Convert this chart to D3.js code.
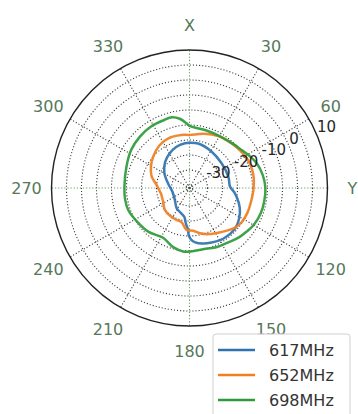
<!DOCTYPE html>
<html>
<head>
<meta charset="utf-8">
<script src="https://cdn.jsdelivr.net/npm/d3@7"></script>
<style>
  html, body { margin: 0; padding: 0; background: #fff; }
  svg { display: block; font-family: "DejaVu Sans", sans-serif; }
</style>
</head>
<body>
<svg id="chart" width="358" height="414"></svg>
<script>
// ---- data (angles in degrees, values in dB) ----
const seriesNames = ["617MHz", "652MHz", "698MHz"];
const seriesColors = ["#2f72b0", "#f07f22", "#2e9a3a"];

const anglesBlue = [0, 11, 31, 52, 74, 88, 96, 107, 116, 131, 146, 158, 167, 174, 178, 181, 182, 186, 190, 198, 212, 231, 257, 282, 301, 317, 330, 342, 354];
const valuesBlue = [-20.9, -20.9, -21.8, -22.5, -22.5, -22.5, -20.9, -18.8, -17.3, -15.7, -15.7, -16.4, -17.0, -17.8, -18.7, -20.3, -22.0, -24.2, -26.2, -27.1, -28.0, -29.7, -30.2, -28.7, -26.2, -24.1, -22.7, -21.6, -21.0];

const anglesOrange = [0, 15, 29, 40, 48, 58, 68, 80, 92, 104, 113, 123, 132, 145, 157, 167, 175, 184, 193, 202, 215, 228, 243, 259, 275, 287, 299, 311, 325, 337, 351];
const valuesOrange = [-18.3, -17.3, -16.2, -15.7, -15.3, -14.7, -14.3, -14.3, -14.7, -15.0, -15.0, -15.2, -16.0, -18.0, -19.3, -20.5, -21.7, -22.0, -24.3, -24.5, -24.7, -25.0, -26.1, -26.3, -25.0, -22.8, -21.3, -20.0, -18.6, -18.0, -18.1];

const anglesGreen = [0, 15, 30, 45, 54, 62, 70, 80, 90, 100, 110, 120, 127, 135, 145, 155, 165, 175, 185, 195, 208, 223, 238, 250, 260, 271, 289, 303, 316, 328, 340, 346, 352, 357];
const valuesGreen = [-15.3, -16.0, -16.0, -15.3, -14.5, -13.3, -12.1, -11.2, -10.7, -10.7, -10.8, -11.3, -12.0, -12.7, -13.8, -14.3, -15.0, -15.0, -14.7, -15.5, -17.2, -16.0, -15.2, -14.3, -14.2, -14.3, -13.8, -12.8, -12.2, -11.8, -11.8, -11.7, -12.7, -14.3];

const thetaTicks = [0, 30, 60, 90, 120, 150, 180, 210, 240, 270, 300, 330];
const thetaLabels = ["X", "30", "60", "Y", "120", "150", "180", "210", "240", "270", "300", "330"];
const rGrid = [-35, -30, -25, -20, -15, -10, -5, 0, 5];
const rTicks = [10, 0, -10, -20, -30];
const rTickLabels = ["10", "0", "-10", "-20", "-30"];
const rDomain = [-36, 10];

// ---- layout ----
const cx = 189.5, cy = 188, R = 138;
const svg = d3.select("#chart");
const g = svg.append("g").attr("transform", `translate(${cx},${cy})`);
const r = d3.scaleLinear().domain(rDomain).range([0, R]);
const rad = d => d * Math.PI / 180;

// grid circles
g.selectAll("circle.grid").data(rGrid).join("circle")
  .attr("class", "grid").attr("r", d => r(d))
  .attr("fill", "none").attr("stroke", "#3a3a3a").attr("stroke-width", 1.1)
  .attr("stroke-dasharray", "1.1,2");

// radial grid lines
g.selectAll("line.spoke").data(thetaTicks).join("line")
  .attr("class", "spoke")
  .attr("x1", 0).attr("y1", 0)
  .attr("x2", d => R * Math.sin(rad(d)))
  .attr("y2", d => -R * Math.cos(rad(d)))
  .attr("stroke", d => d % 90 === 0 ? "#5f925f" : "#3a3a3a")
  .attr("stroke-width", 1.1).attr("stroke-dasharray", "1.1,2");

// outer spine
g.append("circle").attr("r", r(rDomain[1])).attr("fill", "none")
  .attr("stroke", "#222").attr("stroke-width", 1.4);

// angle labels
g.selectAll("text.theta").data(thetaTicks).join("text")
  .attr("class", "theta")
  .attr("x", d => 163 * Math.sin(rad(d)))
  .attr("y", d => -163 * Math.cos(rad(d)))
  .attr("text-anchor", "middle").attr("dominant-baseline", "central")
  .attr("font-size", 16).attr("fill", "#55785a")
  .text((d, i) => thetaLabels[i]);

// series
const series = [
  { angles: anglesBlue, values: valuesBlue },
  { angles: anglesOrange, values: valuesOrange },
  { angles: anglesGreen, values: valuesGreen }
];
const line = d3.lineRadial()
  .angle(d => rad(d[0]))
  .radius(d => r(d[1]))
  .curve(d3.curveCatmullRomClosed.alpha(0.5));

series.forEach((s, i) => {
  const pts = s.angles.map((a, j) => [a, s.values[j]]);
  g.append("path").attr("d", line(pts))
    .attr("fill", "none").attr("stroke", seriesColors[i])
    .attr("stroke-width", 2.5).attr("stroke-opacity", 0.92)
    .attr("stroke-linejoin", "round");
});

// radial tick labels at 67.5 deg clockwise from north
const labAng = rad(67.5);
g.selectAll("text.rlab").data(rTicks).join("text")
  .attr("class", "rlab")
  .attr("x", d => r(d) * Math.sin(labAng))
  .attr("y", d => -r(d) * Math.cos(labAng) - 3)
  .attr("text-anchor", "start")
  .attr("font-size", 15).attr("fill", "#262626")
  .text((d, i) => rTickLabels[i]);

// legend
const lg = svg.append("g").attr("transform", "translate(213,334)");
lg.append("rect").attr("x", 0).attr("y", 0).attr("width", 137).attr("height", 92)
  .attr("rx", 3).attr("fill", "#fff").attr("fill-opacity", 0.85)
  .attr("stroke", "#cfcfcf").attr("stroke-width", 1);
seriesNames.forEach((name, i) => {
  const y = 16 + i * 25;
  lg.append("line").attr("x1", 5).attr("x2", 42).attr("y1", y).attr("y2", y)
    .attr("stroke", seriesColors[i]).attr("stroke-width", 2.5);
  lg.append("text").attr("x", 56).attr("y", y).attr("dominant-baseline", "central")
    .attr("font-size", 16).attr("fill", "#333").text(name);
});
</script>
</body>
</html>
